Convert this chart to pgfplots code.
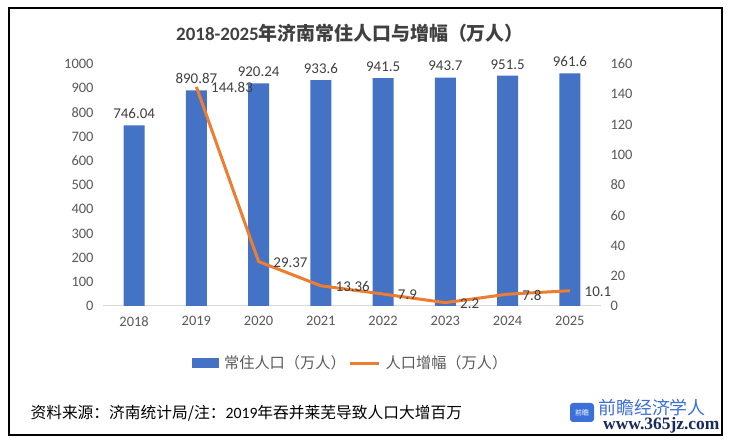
\documentclass[border=0pt]{standalone}
\usepackage{pgfplots}
\pgfplotsset{compat=1.18}
\usepackage{fontspec}
\setmainfont{Carlito}
\newfontfamily\cjk{Noto Sans CJK SC}
\newfontfamily\urlfont{Liberation Serif}
\definecolor{barblue}{HTML}{4472C4}
\definecolor{lineorange}{HTML}{ED7D31}
\definecolor{tickgray}{HTML}{595959}
\definecolor{labgray}{HTML}{404040}
\definecolor{axisgray}{HTML}{D9D9D9}
\definecolor{logoblue}{HTML}{3C6FD8}
\definecolor{navy}{HTML}{1A2A5A}
\begin{document}
\begin{tikzpicture}[x=1bp,y=1bp]
\path[use as bounding box] (0,0) rectangle (733,441);
\fill[white] (0,0) rectangle (733,441);

\begin{axis}[
  at={(103bp,135bp)}, anchor=south west,
  scale only axis, width=498bp, height=242bp,
  xmin=-0.5, xmax=7.5, ymin=0, ymax=1000,
  ytick={0,100,200,300,400,500,600,700,800,900,1000},
  xtick={0,1,2,3,4,5,6,7},
  xticklabels={2018,2019,2020,2021,2022,2023,2024,2025},
  axis x line*=bottom, axis y line*=left,
  x axis line style={draw=axisgray, line width=1bp, -},
  y axis line style={draw=none},
  major tick length=0pt,
  /pgf/number format/1000 sep={},
  /pgf/number format/assume math mode=true,
  tick label style={font=\fontsize{14.5}{16}\selectfont, text=tickgray},
  yticklabel style={xshift=-6bp},
  xticklabel style={yshift=-7bp},
  clip=false,
]
\addplot[ybar, bar width=21bp, fill=barblue, draw=none,
  nodes near coords,
  nodes near coords style={font=\fontsize{15}{17}\selectfont, text=labgray, yshift=3bp}]
  coordinates {(0,746.04) (1,890.87) (2,920.24) (3,933.6) (4,941.5) (5,943.7) (6,951.5) (7,961.6)};
\end{axis}

\draw[black, line width=2.2bp] (9,6) rectangle (722,433);

\begin{axis}[
  at={(103bp,135bp)}, anchor=south west,
  scale only axis, width=498bp, height=242bp,
  xmin=-0.5, xmax=7.5, ymin=0, ymax=160,
  ytick={0,20,40,60,80,100,120,140,160},
  axis x line=none, axis y line*=right,
  y axis line style={draw=none},
  major tick length=0pt,
  /pgf/number format/1000 sep={},
  /pgf/number format/assume math mode=true,
  tick label style={font=\fontsize{14.5}{16}\selectfont, text=tickgray},
  yticklabel style={xshift=6bp},
  clip=false,
  legend style={at={(0.498,-0.236)}, anchor=center, draw=none, fill=none,
    font=\cjk\fontsize{15.25}{17}\selectfont, text=tickgray,
    legend columns=2, nodes={inner sep=2.5bp},
    /tikz/every odd column/.append style={column sep=3bp}},
]
\addlegendimage{legend image code/.code={\fill[barblue] (0bp,-4.5bp) rectangle (26bp,4.5bp);}}
\addlegendentry{常住人口（万人）}
\addlegendimage{legend image code/.code={\draw[lineorange, line width=3bp] (0bp,0bp) -- (29bp,0bp);}}
\addlegendentry{人口增幅（万人）}
\addplot[lineorange, line width=3bp, mark=none,
  nodes near coords,
  nodes near coords style={anchor=west, xshift=10bp, yshift=-1bp,
    font=\fontsize{15}{17}\selectfont, text=labgray}]
  coordinates {(1,144.83) (2,29.37) (3,13.36) (4,7.9) (5,2.2) (6,7.8) (7,10.1)};
\end{axis}

\node[font=\bfseries\fontsize{19}{21}\selectfont, text=labgray] at (350,408)
  {2018-2025{\cjk\bfseries 年济南常住人口与增幅（万人）}};

\node[anchor=west, font=\fontsize{15.8}{17}\selectfont, text=black] at (27,28)
  {{\cjk 资料来源：济南统计局/注：}2019{\cjk 年吞并莱芜导致人口大增百万}};

\fill[logoblue, rounded corners=3bp] (570,19) rectangle (594,38);
\node[font=\cjk\fontsize{7}{8}\selectfont, text=white] at (582,28.5) {前瞻};
\node[anchor=west, inner sep=0pt, font=\cjk\fontsize{18}{20}\selectfont, text=logoblue] at (598,33) {前瞻经济学人};
\node[anchor=west, inner sep=0pt, font=\urlfont\bfseries\fontsize{17.5}{19}\selectfont, text=navy] at (603,16) {www.365jz.com};
\end{tikzpicture}
\end{document}
